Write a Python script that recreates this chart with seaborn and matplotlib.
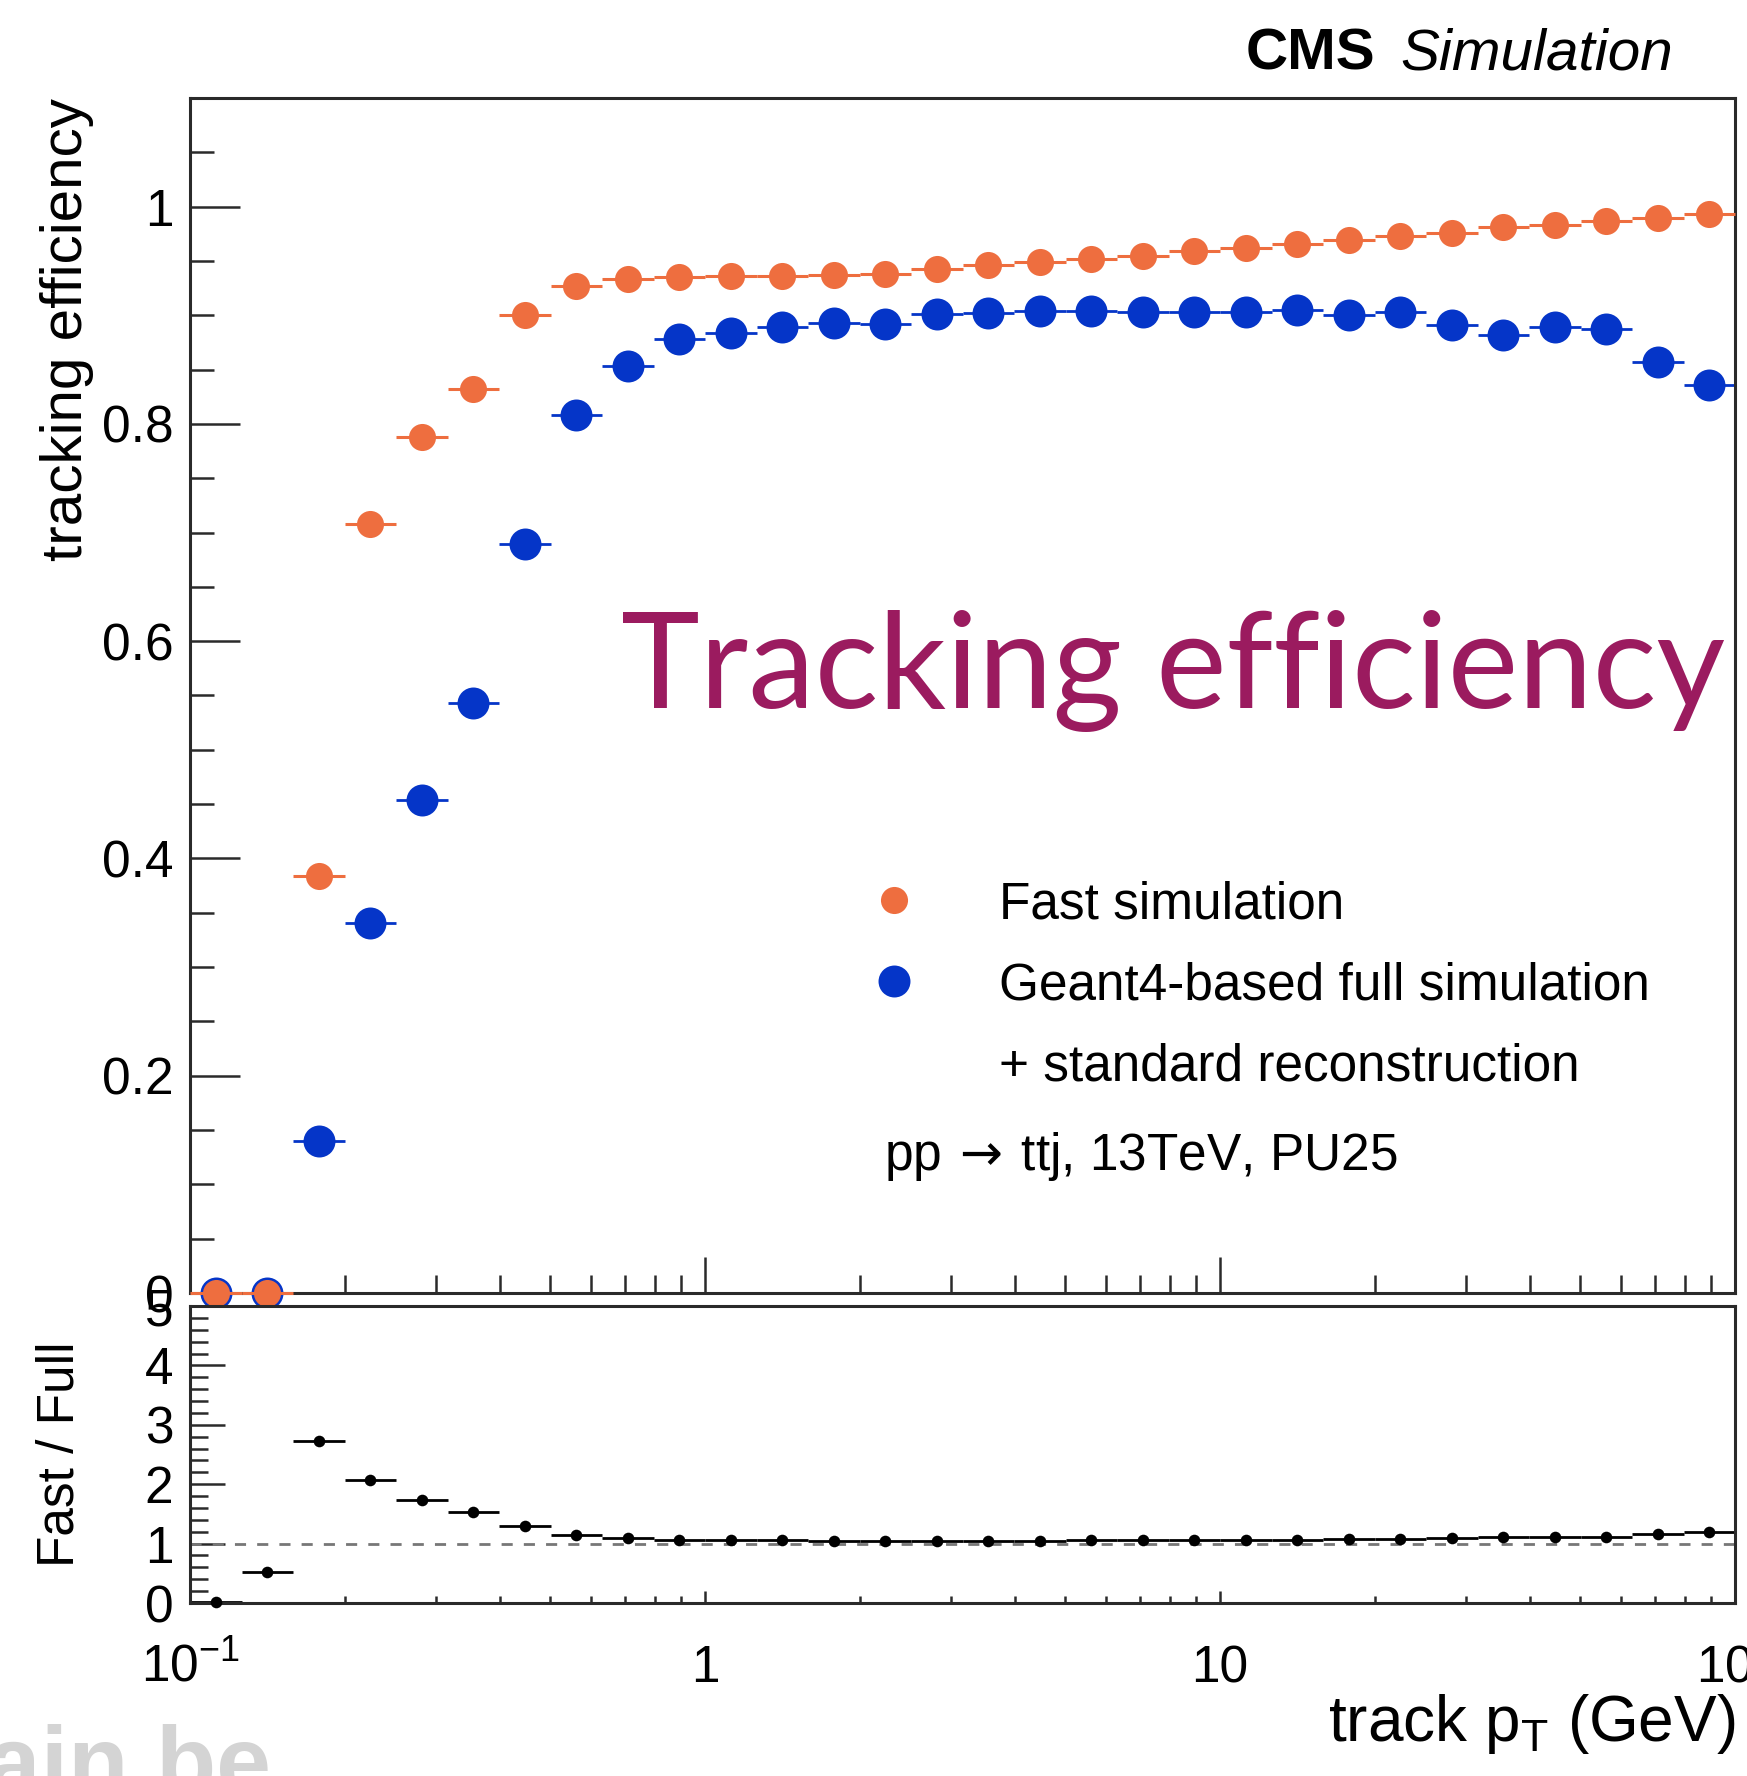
import numpy as np
import pandas as pd
import matplotlib
matplotlib.use("Agg")
import matplotlib.pyplot as plt
import seaborn as sns
from matplotlib.ticker import MultipleLocator, FixedLocator, NullFormatter, LogLocator
from matplotlib.lines import Line2D

# ---------------- data ----------------
pt_edges = np.logspace(-1, 2, 31)          # 10 log bins per decade, 0.1 - 100 GeV
fast_eff = [0.0, 0.0, 0.384, 0.708, 0.788, 0.832, 0.900, 0.927, 0.933, 0.935,
            0.936, 0.936, 0.937, 0.938, 0.943, 0.946, 0.949, 0.952, 0.955, 0.959,
            0.962, 0.966, 0.969, 0.973, 0.976, 0.981, 0.983, 0.987, 0.990, 0.993]
full_eff = [0.0, 0.0, 0.140, 0.341, 0.454, 0.543, 0.689, 0.808, 0.853, 0.878,
            0.884, 0.889, 0.893, 0.892, 0.901, 0.902, 0.904, 0.904, 0.903, 0.903,
            0.903, 0.905, 0.900, 0.903, 0.891, 0.882, 0.889, 0.887, 0.857, 0.836]
ratio_vals = [0.02, 0.52, 2.73, 2.07, 1.74, 1.53, 1.30, 1.14, 1.10, 1.065,
              1.06, 1.055, 1.05, 1.05, 1.047, 1.049, 1.05, 1.053, 1.058, 1.062,
              1.065, 1.067, 1.077, 1.077, 1.095, 1.11, 1.105, 1.11, 1.155, 1.19]
legend_labels = ["Fast simulation", "Geant4-based full simulation", "+ standard reconstruction"]
xtick_vals = [0.1, 1, 10, 100]
xtick_labels = [r"$10^{-1}$", "1", "10", r"$10^{2}$"]

# ---------------- style ----------------
sns.set_theme(style="ticks")
plt.rcParams["font.family"] = ["Liberation Sans", "DejaVu Sans"]
plt.rcParams["mathtext.fontset"] = "custom"
plt.rcParams["mathtext.rm"] = "Liberation Sans"
plt.rcParams["mathtext.it"] = "Liberation Sans:italic"
plt.rcParams["mathtext.bf"] = "Liberation Sans:bold"
for key in ["text.color", "axes.labelcolor", "xtick.color", "ytick.color"]:
    plt.rcParams[key] = "black"

ORANGE = "#EE6E3F"
BLUE = "#0535C8"
MAGENTA = "#9B1B5F"
FRAME = "#2a2a2a"
FS = 37

W, H = 1747, 1776
fig = plt.figure(figsize=(W / 100, H / 100), dpi=100)


def fr(x0, y0, x1, y1):
    return [x0 / W, 1 - y1 / H, (x1 - x0) / W, (y1 - y0) / H]


ax = fig.add_axes(fr(190, 98, 1735, 1293))
ax2 = fig.add_axes(fr(190, 1306, 1735, 1603))

centers = np.sqrt(pt_edges[:-1] * pt_edges[1:])
df = pd.DataFrame({"pt": centers, "lo": pt_edges[:-1], "hi": pt_edges[1:],
                   "fast": fast_eff, "full": full_eff, "ratio": ratio_vals})

# ---------------- main panel ----------------
ax.hlines(df["full"], df["lo"], df["hi"], color=BLUE, lw=2.0, zorder=2, clip_on=False)
sns.scatterplot(data=df, x="pt", y="full", ax=ax, color=BLUE, s=530,
                linewidth=0, zorder=3, clip_on=False, legend=False)
ax.hlines(df["fast"], df["lo"], df["hi"], color=ORANGE, lw=2.2, zorder=4, clip_on=False)
sns.scatterplot(data=df, x="pt", y="fast", ax=ax, color=ORANGE, s=380,
                linewidth=0, zorder=5, clip_on=False, legend=False)

ax.set_xscale("log")
ax.set_xlim(0.1, 100)
ax.set_ylim(0, 1.1)
ax.set_xlabel("")
ax.set_ylabel("tracking efficiency", fontsize=42, loc="top")
ax.yaxis.set_label_coords(-0.062, 1.0)

ax.yaxis.set_minor_locator(MultipleLocator(0.05))
ax.set_yticks([0, 0.2, 0.4, 0.6, 0.8, 1.0])
ax.set_yticklabels(["0", "0.2", "0.4", "0.6", "0.8", "1"])
ax.xaxis.set_major_locator(FixedLocator(xtick_vals))
ax.xaxis.set_minor_locator(LogLocator(base=10, subs=np.arange(2, 10)))
ax.xaxis.set_major_formatter(NullFormatter())
ax.xaxis.set_minor_formatter(NullFormatter())

ax.tick_params(axis="y", which="major", direction="in", length=36, width=1.8,
               color=FRAME, labelsize=FS, pad=12, left=True, right=False)
ax.tick_params(axis="y", which="minor", direction="in", length=17, width=1.8,
               color=FRAME, left=True, right=False)
ax.tick_params(axis="x", which="major", direction="in", length=26, width=1.8,
               color=FRAME, bottom=True, top=False)
ax.tick_params(axis="x", which="minor", direction="in", length=13, width=1.8,
               color=FRAME, bottom=True, top=False)
for sp in ax.spines.values():
    sp.set_color(FRAME)
    sp.set_linewidth(2.2)
    sp.set_visible(True)

# legend
handles = [
    Line2D([], [], ls="none", marker="o", color=ORANGE, markersize=19.5, markeredgewidth=0),
    Line2D([], [], ls="none", marker="o", color=BLUE, markersize=23, markeredgewidth=0),
    Line2D([], [], ls="none"),
]
leg = ax.legend(handles, legend_labels, loc="upper left",
                bbox_to_anchor=(868 / W, 1 - 880 / H), bbox_transform=fig.transFigure,
                frameon=False, fontsize=FS, borderpad=0, borderaxespad=0,
                handlelength=1.0, handletextpad=1.55, labelspacing=0.63)

fig.text(884 / W, 1 - 1170 / H, r"pp$\,\rightarrow\,$ttj, 13TeV, PU25", fontsize=FS,
         va="baseline", ha="left", math_fontfamily="dejavusans")

# ---------------- ratio panel ----------------
ax2.axhline(1.0, color="#777777", lw=2.0, ls=(0, (4, 4)), zorder=1)
ax2.hlines(df["ratio"], df["lo"], df["hi"], color="black", lw=2.0, zorder=2, clip_on=False)
sns.scatterplot(data=df, x="pt", y="ratio", ax=ax2, color="black", s=70,
                linewidth=0, zorder=3, clip_on=False, legend=False)
ax2.set_xscale("log")
ax2.set_xlim(0.1, 100)
ax2.set_ylim(0, 5)
ax2.set_yticks([0, 1, 2, 3, 4, 5])
ax2.set_yticklabels(["0", "1", "2", "3", "4", "5"])
ax2.yaxis.set_minor_locator(MultipleLocator(0.2))
ax2.xaxis.set_major_locator(FixedLocator(xtick_vals))
ax2.xaxis.set_minor_locator(LogLocator(base=10, subs=np.arange(2, 10)))
ax2.xaxis.set_minor_formatter(NullFormatter())
ax2.tick_params(axis="y", which="major", direction="in", length=25, width=1.8,
                color=FRAME, labelsize=FS, pad=12, left=True, right=False)
ax2.tick_params(axis="y", which="minor", direction="in", length=13, width=1.8,
                color=FRAME, left=True, right=False)
ax2.tick_params(axis="x", which="major", direction="in", length=9, width=1.8,
                color=FRAME, labelsize=FS, pad=57, bottom=True, top=False)
ax2.tick_params(axis="x", which="minor", direction="in", length=5, width=1.8,
                color=FRAME, bottom=True, top=False)
ax2.set_xticks(xtick_vals)
ax2.set_xticklabels(xtick_labels, va="baseline")
for sp in ax2.spines.values():
    sp.set_color(FRAME)
    sp.set_linewidth(2.2)
    sp.set_visible(True)
ax2.set_ylabel("Fast / Full", fontsize=FS)
ax2.yaxis.set_label_coords(-0.068, 0.5)
ax2.set_xlabel(r"track p$_{\mathrm{T}}$ (GeV)", fontsize=46, loc="right")
ax2.xaxis.set_label_coords(1.0, -0.30)

# ---------------- decorations ----------------
fig.text(1246 / W, 1 - 70 / H, "CMS", fontsize=42, fontweight="bold", va="baseline")
fig.text(1400 / W, 1 - 70 / H, "Simulation", fontsize=42, fontstyle="italic", va="baseline")
fig.text(621 / W, 1 - 708 / H, "Tracking efficiency", fontsize=96, color=MAGENTA,
         family=["Lato", "DejaVu Sans"], va="baseline")
fig.text(272 / W, 1 - 1795 / H, "uclouvain.be", fontsize=71, fontweight="bold",
         color="#d4d4d4", ha="right", va="baseline")

fig.savefig("out.png", dpi=100)
